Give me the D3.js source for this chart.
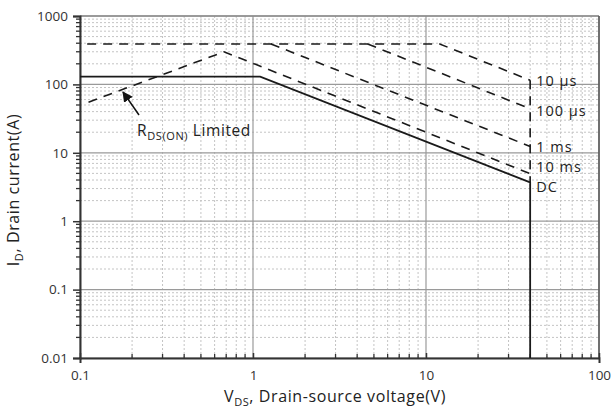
<!DOCTYPE html>
<html>
<head>
<meta charset="utf-8">
<script src="https://cdn.jsdelivr.net/npm/d3@7"></script>
<style>
  html, body { margin: 0; padding: 0; background: #fff; }
  svg { display: block; font-family: "Open Sans", "DejaVu Sans", sans-serif; }
</style>
</head>
<body>
<svg id="chart" width="611" height="412"></svg>
<script>
// Safe operating area: drain current vs drain-source voltage (log-log)
const xTicks = [0.1, 1, 10, 100];
const yTicks = [0.01, 0.1, 1, 10, 100, 1000];
const xTickLabels = ["0.1", "1", "10", "100"];
const yTickLabels = ["0.01", "0.1", "1", "10", "100", "1000"];

// Boundary curves as [V, A] points
const curve10us  = [[0.11, 390], [12, 390], [40, 115]];
const curve100us = [[4.6, 390], [40, 44]];
const curve1ms   = [[1.27, 390], [40, 12.4]];
const curve10ms  = [[0.112, 55], [0.68, 300], [40, 4.95]];
const curveDC    = [[0.1, 130], [1.1, 130], [40, 3.7], [40, 0.01]];
const pulseEdge  = [[40, 115], [40, 3.7]];

const curveLabels = ["10 µs", "100 µs", "1 ms", "10 ms", "DC"];
const labelCurrents = [115, 44, 12.4, 4.95, 3.7];

const svg = d3.select("#chart");
const m = { left: 80, right: 599, top: 16, bottom: 358 };

const x = d3.scaleLog().domain([0.1, 100]).range([m.left, m.right]);
const y = d3.scaleLog().domain([0.01, 1000]).range([m.bottom, m.top]);

// minor positions 2..9 in each decade
function minors(lo, hi) {
  const out = [];
  for (let d = lo; d < hi * 0.999; d *= 10) for (let k = 2; k <= 9; k++) out.push(d * k);
  return out;
}
const xMinor = minors(0.1, 100);
const yMinor = minors(0.01, 1000);

const grid = svg.append("g");
grid.selectAll(".xm").data(xMinor).join("line")
  .attr("x1", d => x(d)).attr("x2", d => x(d))
  .attr("y1", m.top).attr("y2", m.bottom)
  .attr("stroke", "#c4c4c4").attr("stroke-width", 1).attr("stroke-dasharray", "2,2");
grid.selectAll(".ym").data(yMinor).join("line")
  .attr("x1", m.left).attr("x2", m.right)
  .attr("y1", d => y(d)).attr("y2", d => y(d))
  .attr("stroke", "#c4c4c4").attr("stroke-width", 1).attr("stroke-dasharray", "2,2");
grid.selectAll(".xM").data(xTicks).join("line")
  .attr("x1", d => x(d)).attr("x2", d => x(d))
  .attr("y1", m.top).attr("y2", m.bottom)
  .attr("stroke", "#9a9a9a").attr("stroke-width", 1.2);
grid.selectAll(".yM").data(yTicks).join("line")
  .attr("x1", m.left).attr("x2", m.right)
  .attr("y1", d => y(d)).attr("y2", d => y(d))
  .attr("stroke", "#9a9a9a").attr("stroke-width", 1.2);

// frame: top lighter, right darker, left/bottom dark axes
svg.append("line").attr("x1", m.left).attr("x2", m.right).attr("y1", m.top).attr("y2", m.top)
  .attr("stroke", "#8a8a8a").attr("stroke-width", 1.5);
svg.append("line").attr("x1", m.right).attr("x2", m.right).attr("y1", m.top).attr("y2", m.bottom)
  .attr("stroke", "#555").attr("stroke-width", 1.5);

// axes
const xAxis = d3.axisBottom(x).tickValues(xTicks).tickFormat((d, i) => xTickLabels[i]).tickSize(5).tickPadding(7);
const yAxis = d3.axisLeft(y).tickValues(yTicks).tickFormat((d, i) => yTickLabels[i]).tickSize(7).tickPadding(5);

const gx = svg.append("g").attr("transform", `translate(0,${m.bottom})`).call(xAxis);
const gy = svg.append("g").attr("transform", `translate(${m.left},0)`).call(yAxis);
[gx, gy].forEach(g => {
  g.select(".domain").attr("stroke", "#333").attr("stroke-width", 2);
  g.selectAll(".tick line").attr("stroke", "#333").attr("stroke-width", 1.5);
  g.selectAll(".tick text").attr("fill", "#333").attr("font-size", 13.5)
    .attr("font-family", "\"Open Sans\", sans-serif");
});
gx.selectAll(".tick line").attr("y1", -5).attr("y2", 0);

// minor ticks
svg.append("g").selectAll("line").data(xMinor).join("line")
  .attr("x1", d => x(d)).attr("x2", d => x(d))
  .attr("y1", m.bottom - 4).attr("y2", m.bottom)
  .attr("stroke", "#333").attr("stroke-width", 1.3);
svg.append("g").selectAll("line").data(yMinor).join("line")
  .attr("x1", m.left - 4).attr("x2", m.left)
  .attr("y1", d => y(d)).attr("y2", d => y(d))
  .attr("stroke", "#333").attr("stroke-width", 1.3);

// curves
const line = d3.line().x(d => x(d[0])).y(d => y(d[1]));
const dashed = [curve10us, curve100us, curve1ms, curve10ms, pulseEdge];
svg.append("g").selectAll("path").data(dashed).join("path")
  .attr("d", line).attr("fill", "none")
  .attr("stroke", "#1a1a1a").attr("stroke-width", 1.6)
  .attr("stroke-dasharray", "9,7");
svg.append("path").datum(curveDC).attr("d", line).attr("fill", "none")
  .attr("stroke", "#1a1a1a").attr("stroke-width", 1.8);

// curve labels, set just right of the curve ends (vertical nudges keep them apart)
const labelNudge = [6, 7, 5.5, -1.5, 9.5];
svg.append("g").selectAll("text").data(curveLabels).join("text")
  .attr("x", x(40) + 6)
  .attr("y", (d, i) => y(labelCurrents[i]) + labelNudge[i])
  .attr("font-size", 14.5).attr("letter-spacing", 1).attr("fill", "#222")
  .text(d => d);

// RDS(ON) annotation with arrow
svg.append("defs").append("marker").attr("id", "arrowhead")
  .attr("viewBox", "0 0 10 10").attr("refX", 9).attr("refY", 5)
  .attr("markerWidth", 7).attr("markerHeight", 7).attr("orient", "auto")
  .append("path").attr("d", "M0,0 L10,5 L0,10 Z").attr("fill", "#111");
svg.append("line").attr("x1", 139).attr("y1", 115).attr("x2", 123).attr("y2", 92)
  .attr("stroke", "#111").attr("stroke-width", 1.5).attr("marker-end", "url(#arrowhead)");
const rds = svg.append("text").attr("x", 137).attr("y", 136).attr("font-size", 15.5)
  .attr("letter-spacing", 0.6).attr("fill", "#222");
rds.append("tspan").text("R");
rds.append("tspan").attr("font-size", 11).attr("dy", 4).text("DS(ON)");
rds.append("tspan").attr("dy", -4).text(" Limited");

// axis titles
const xt = svg.append("text").attr("x", 335).attr("y", 402).attr("text-anchor", "middle")
  .attr("font-size", 16).attr("letter-spacing", 0.6).attr("fill", "#222");
xt.append("tspan").text("V");
xt.append("tspan").attr("font-size", 11).attr("dy", 4).text("DS");
xt.append("tspan").attr("dy", -4).text(", Drain-source voltage(V)");

const yt = svg.append("text").attr("transform", "translate(19,190) rotate(-90)")
  .attr("text-anchor", "middle").attr("font-size", 16).attr("letter-spacing", 0.6).attr("fill", "#222");
yt.append("tspan").text("I");
yt.append("tspan").attr("font-size", 11).attr("dy", 4).text("D");
yt.append("tspan").attr("dy", -4).text(", Drain current(A)");
</script>
</body>
</html>
